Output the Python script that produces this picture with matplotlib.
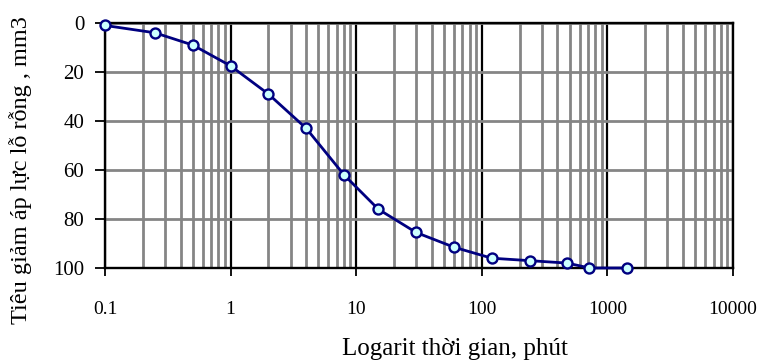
import matplotlib
matplotlib.use("Agg")
import matplotlib.pyplot as plt
from matplotlib.ticker import LogLocator, FixedLocator, NullFormatter, FixedFormatter

# Consolidation readings: elapsed time (minutes) vs. pore-pressure dissipation
time_min = [0.1, 0.25, 0.5, 1, 2, 4, 8, 15, 30, 60, 120, 240, 480, 720, 1440]
dissipation = [1, 4, 9, 17.5, 29, 43, 62, 76, 85.5, 91.5, 96, 97, 98, 100, 100]

x_ticks = [0.1, 1, 10, 100, 1000, 10000]
x_tick_labels = ["0.1", "1", "10", "100", "1000", "10000"]
y_ticks = [0, 20, 40, 60, 80, 100]

plt.rcParams["font.family"] = ["Liberation Serif", "DejaVu Serif"]

W, H = 759, 363
fig = plt.figure(figsize=(W / 100, H / 100), dpi=100)
left, right, top, bottom = 105, 733, 23, 268
ax = fig.add_axes([left / W, 1 - bottom / H, (right - left) / W, (bottom - top) / H])

ax.set_xscale("log")
ax.set_xlim(0.1, 10000)
ax.set_ylim(100, 0)

grid_gray = "#858585"
ax.xaxis.set_minor_locator(LogLocator(base=10, subs=range(2, 10)))
ax.xaxis.set_minor_formatter(NullFormatter())
ax.xaxis.set_major_locator(FixedLocator(x_ticks))
ax.xaxis.set_major_formatter(FixedFormatter(x_tick_labels))
ax.yaxis.set_major_locator(FixedLocator(y_ticks))

ax.grid(which="minor", axis="x", color=grid_gray, linewidth=2.0)
ax.grid(which="major", axis="y", color=grid_gray, linewidth=2.0)
ax.grid(which="major", axis="x", color="black", linewidth=1.6)
ax.set_axisbelow(True)

for s in ax.spines.values():
    s.set_color("black")
    s.set_linewidth(1.7)

ax.tick_params(axis="x", which="major", direction="out", length=6, width=1.3,
               pad=18, labelsize=14)
ax.tick_params(axis="x", which="minor", length=0)
ax.tick_params(axis="y", which="major", direction="out", length=7, width=1.3,
               pad=8, labelsize=15)

ax.plot(time_min, dissipation, color="#000080", linewidth=2.0, marker="o",
        markersize=7.2, markerfacecolor="#CCFFFF", markeredgecolor="#000080",
        markeredgewidth=1.7, clip_on=False, zorder=5)

fig.text(455 / W, 1 - 355 / H, "Logarit thời gian, phút", ha="center", va="baseline",
         fontsize=18)
fig.text(21 / W, 1 - 170 / H, "Tiêu giảm áp lực lỗ rỗng , mm3", ha="center", va="center",
         rotation=90, fontsize=17.5)

fig.savefig("out.png", dpi=100)
